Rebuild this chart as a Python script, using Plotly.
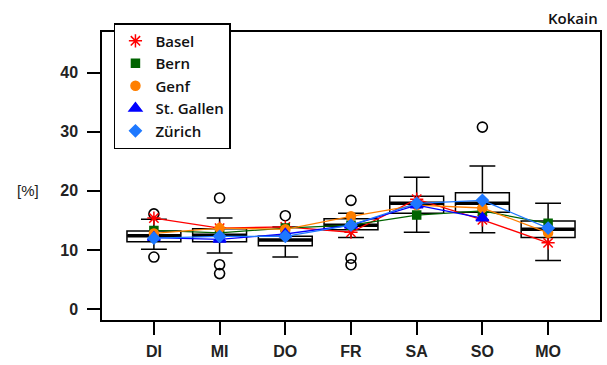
import plotly.graph_objects as go

TAGE = ["DI", "MI", "DO", "FR", "SA", "SO", "MO"]

# Boxplot-Kennwerte pro Wochentag
Q1 = [11.4, 11.4, 10.7, 13.4, 16.2, 16.4, 12.1]
MEDIAN = [12.4, 12.5, 11.7, 14.2, 17.9, 17.9, 13.5]
Q3 = [13.2, 13.6, 12.3, 15.3, 19.1, 19.7, 14.9]
WHISK_LO = [10.1, 9.5, 8.8, 12.1, 13.0, 12.9, 8.2]
WHISK_HI = [15.2, 15.4, 13.9, 16.2, 22.3, 24.2, 17.9]

# Ausreisser
AUSR_TAG = ["DI", "DI", "MI", "MI", "MI", "DO", "FR", "FR", "FR", "SO"]
AUSR_WERT = [16.1, 8.8, 18.8, 7.5, 6.0, 15.8, 18.4, 8.6, 7.5, 30.8]

# Staedte
BASEL = [15.4, 13.7, 13.9, 13.0, 18.6, 15.1, 11.2]
BERN = [13.3, 12.9, 13.7, 14.2, 15.9, 16.6, 14.5]
GENF = [12.8, 13.7, 13.5, 15.7, 17.6, 17.1, 12.9]
STGALLEN = [12.1, 11.8, 12.7, 14.2, 17.6, 15.4, None]
ZUERICH = [12.0, 12.3, 12.3, 14.2, 17.9, 18.4, 13.7]

ROT = "#FF0000"
GRUEN = "#006400"
ORANGE = "#FF7F00"
BLAU = "#0000FF"
HELLBLAU = "#1E78FF"
SCHWARZ = "#000000"

fig = go.Figure()

fig.add_trace(go.Box(
    x=TAGE, q1=Q1, median=MEDIAN, q3=Q3,
    lowerfence=WHISK_LO, upperfence=WHISK_HI,
    fillcolor="white", line=dict(color=SCHWARZ, width=1.5),
    width=0.82, whiskerwidth=0.48, boxpoints=False,
    showlegend=False, hoverinfo="skip",
))

# dicke Medianlinie wie in R (line-ew ist 1.4 * size lang)
fig.add_trace(go.Scatter(
    x=TAGE, y=MEDIAN, mode="markers", showlegend=False, hoverinfo="skip",
    marker=dict(symbol="line-ew", size=38, line=dict(color=SCHWARZ, width=3.5)),
))

fig.add_trace(go.Scatter(
    x=AUSR_TAG, y=AUSR_WERT, mode="markers", showlegend=False,
    marker=dict(symbol="circle-open", size=10, color=SCHWARZ, line=dict(width=1.6)),
))

staedte = [
    ("Basel", BASEL, ROT, "asterisk-open", 11),
    ("Bern", BERN, GRUEN, "square", 8),
    ("Genf", GENF, ORANGE, "circle", 9),
    ("St. Gallen", STGALLEN, BLAU, "triangle-up", 11),
    ("Zürich", ZUERICH, HELLBLAU, "diamond", 9),
]

for name, werte, farbe, sym, gr in staedte:
    fig.add_trace(go.Scatter(
        x=TAGE, y=werte, mode="lines+markers", name=name, showlegend=False,
        line=dict(color=farbe, width=1.3),
        marker=dict(symbol=sym, size=gr, color=farbe, line=dict(color=farbe, width=1.5)),
    ))

# Legende nur mit Symbolen
for name, werte, farbe, sym, gr in staedte:
    fig.add_trace(go.Scatter(
        x=[None], y=[None], mode="markers", name=name,
        marker=dict(symbol=sym, size=gr, color=farbe, line=dict(color=farbe, width=1.5)),
    ))

fig.add_annotation(
    text="Kokain", xref="paper", yref="paper", x=1.0, y=1.05,
    xanchor="right", yanchor="middle", showarrow=False,
    font=dict(family="Open Sans", size=15, color="#111111", weight=600),
)
fig.add_annotation(
    text="[%]", xref="paper", yref="y", x=-0.148, y=20,
    xanchor="center", yanchor="middle", showarrow=False,
    font=dict(family="Liberation Sans", size=15, color="#222222"),
)

fig.update_layout(
    width=607, height=365,
    paper_bgcolor="white", plot_bgcolor="white",
    margin=dict(l=102, r=5, t=32, b=45),
    font=dict(family="Liberation Sans", color="#222222"),
    xaxis=dict(
        range=[-0.79, 6.79], showgrid=False, zeroline=False,
        showline=True, mirror=True, linecolor=SCHWARZ, linewidth=1.5,
        ticks="outside", ticklen=13, tickwidth=1.5, tickcolor=SCHWARZ,
        ticklabelstandoff=3,
        tickfont=dict(size=16, weight="bold", color="#222222"),
    ),
    yaxis=dict(
        range=[-1.86, 46.9], showgrid=False, zeroline=False,
        showline=True, mirror=True, linecolor=SCHWARZ, linewidth=1.5,
        tickvals=[0, 10, 20, 30, 40],
        ticks="outside", ticklen=13, tickwidth=1.5, tickcolor=SCHWARZ,
        ticklabelstandoff=6,
        tickfont=dict(size=16, weight="bold", color="#222222"),
    ),
    legend=dict(
        x=0.024, y=1.031, xanchor="left", yanchor="top",
        bgcolor="white", bordercolor=SCHWARZ, borderwidth=1.5,
        font=dict(family="Open Sans", size=15, color="#111111", weight=600),
        tracegroupgap=0,
    ),
)

fig.write_html("out.html", config={"displayModeBar": False},
               post_script="document.body.style.margin='0';")
